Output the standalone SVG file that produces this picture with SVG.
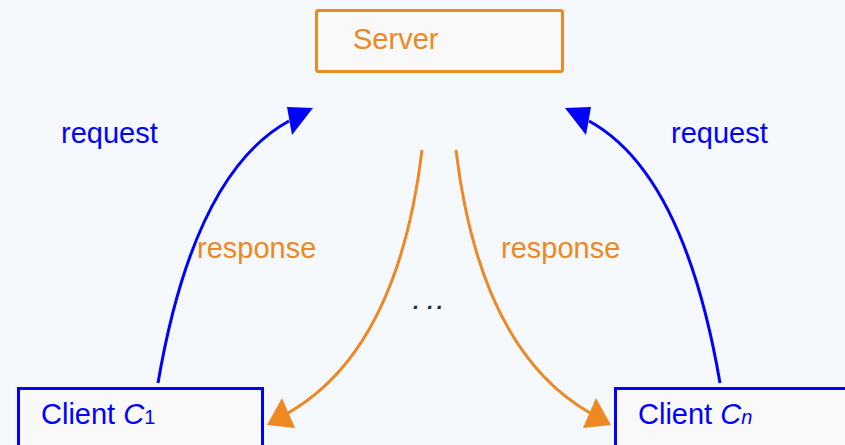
<svg xmlns="http://www.w3.org/2000/svg" width="845" height="445" viewBox="0 0 845 445">
<defs>
<style>
.bg{fill:#f5f8fc}
.box{fill:#f9f9fa;stroke-width:3}
.srv{stroke:#ee8822}
.cli{stroke:#0000ff}
.t{font-family:"Liberation Sans",Arial,sans-serif;font-size:29px}
.blue{fill:#0000ff}
.orange{fill:#ee8822}
.req{fill:none;stroke:#0000ff;stroke-width:3}
.resp{fill:none;stroke:#ee8822;stroke-width:3}
</style>
</defs>
<rect class="bg" x="0" y="0" width="845" height="445"/>
<g id="connectors">
<path class="req" d="M158,383 Q194,173 289,121"/>
<path d="M287,107 L313,108 L292,135 Z" fill="#0000ff"/>
<path class="req" d="M720,383 Q684,173 589,121"/>
<path d="M591,107 L565,108 L586,135 Z" fill="#0000ff"/>
<path class="resp" d="M422,150 Q398,350 288,413"/>
<path d="M282,398 L267,425 L295,428 Z" fill="#ee8822"/>
<path class="resp" d="M456,150 Q480,350 590,413"/>
<path d="M596,398 L611,425 L583,428 Z" fill="#ee8822"/>
</g>
<g id="server">
<rect class="box srv" x="316.5" y="10.5" width="246" height="61" rx="2"/>
<text class="t orange" x="353" y="49">Server</text>
</g>
<g id="client1">
<rect class="box cli" x="18.5" y="388.5" width="244" height="70"/>
<text class="t blue" x="41" y="424">Client <tspan font-style="italic">C</tspan><tspan font-size="20">1</tspan></text>
</g>
<g id="clientn">
<rect class="box cli" x="615.5" y="388.5" width="250" height="70"/>
<text class="t blue" x="638" y="424">Client <tspan font-style="italic">C</tspan><tspan font-size="20" font-style="italic">n</tspan></text>
</g>
<g id="labels">
<text class="t blue" x="61" y="143">request</text>
<text class="t blue" x="671" y="143">request</text>
<text class="t orange" x="197" y="258">response</text>
<text class="t orange" x="501" y="258">response</text>
<text x="413" y="309" font-family="Liberation Sans,sans-serif" font-size="22" font-weight="bold" font-style="italic" fill="#1e2a36" dx="0 8 3.5">...</text>
</g>
</svg>
